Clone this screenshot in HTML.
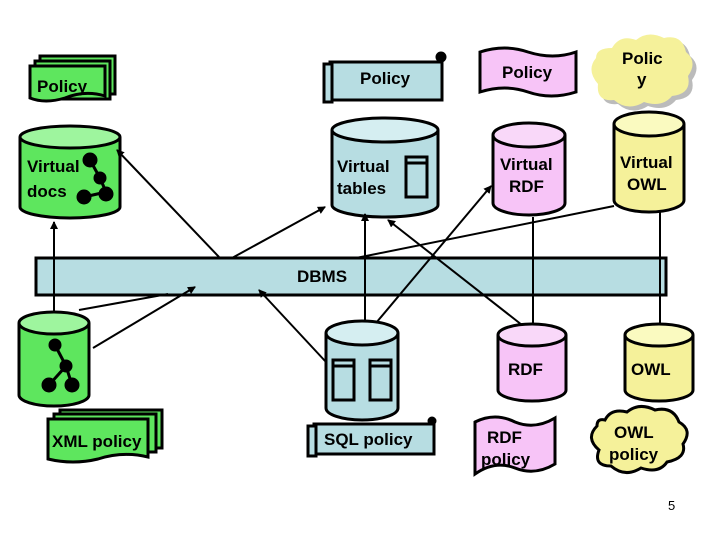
<!DOCTYPE html>
<html><head><style>body{margin:0;background:#fff}svg{display:block}text{font-family:"Liberation Sans",Arial,sans-serif;font-weight:bold;font-size:17px;fill:#000}</style></head>
<body>
<svg width="720" height="540" viewBox="0 0 720 540" xmlns="http://www.w3.org/2000/svg">
<defs>
<marker id="a" markerWidth="8" markerHeight="8" refX="7" refY="4" orient="auto" markerUnits="userSpaceOnUse"><path d="M0,0 L8,4 L0,8 z" fill="#000"/></marker>
</defs>
<g stroke="#000" stroke-width="3">
<path d="M40,56 h75 v38 h-75z" fill="#5ee65e"/>
<path d="M35,61 h75 v38 h-75z" fill="#5ee65e"/>
<path d="M30,66 h75 v30 q-20,-6 -40,2 q-20,6 -35,0z" fill="#5ee65e"/>
<path d="M330,62 h112 v38 h-112z" fill="#b7dde2"/>
<path d="M324,64 h8 v38 h-8z" fill="#b7dde2"/>
<circle cx="441" cy="57" r="4" fill="#000"/>
<path d="M480,52 q25,-8 48,0 q25,8 48,0 v40 q-25,8 -48,0 q-23,-8 -48,0z" fill="#f7c4f7"/>
<path d="M616,52 q8,-14 24,-8 q12,-10 28,-2 q18,-4 22,14 q12,10 2,24 q4,18 -16,20 q-10,12 -28,6 q-16,10 -30,-2 q-18,2 -16,-16 q-12,-14 -2,-26 q0,-10 16,-10z" fill="#bbb" stroke="none"/>
<path d="M612,48 q8,-14 24,-8 q12,-10 28,-2 q18,-4 22,14 q12,10 2,24 q4,18 -16,20 q-10,12 -28,6 q-16,10 -30,-2 q-18,2 -16,-16 q-12,-14 -2,-26 q0,-10 16,-10z" fill="#f5f19a" stroke="none"/>
</g>
<text x="37" y="92">Policy</text>
<text x="360" y="84">Policy</text>
<text x="502" y="78">Policy</text>
<text x="622" y="64">Polic</text>
<text x="637" y="85">y</text>
<g stroke="#000" stroke-width="3">
<path d="M20,137 v70 a50,11 0 0 0 100,0 v-70" fill="#5ee65e"/><ellipse cx="70" cy="137" rx="50" ry="11" fill="#9ef59e"/>
<path d="M332,130 v75 a53,12 0 0 0 106,0 v-75" fill="#b7dde2"/><ellipse cx="385" cy="130" rx="53" ry="12" fill="#d5eef1"/>
<path d="M493,135 v68 a36,12 0 0 0 72,0 v-68" fill="#f7c4f7"/><ellipse cx="529" cy="135" rx="36" ry="12" fill="#f9d8f9"/>
<path d="M614,124 v76 a35,12 0 0 0 70,0 v-76" fill="#f5f19a"/><ellipse cx="649" cy="124" rx="35" ry="12" fill="#fafac0"/>
<path d="M19,323 v72 a35,11 0 0 0 70,0 v-72" fill="#5ee65e"/><ellipse cx="54" cy="323" rx="35" ry="11" fill="#9ef59e"/>
<path d="M326,333 v75 a36,12 0 0 0 72,0 v-75" fill="#b7dde2"/><ellipse cx="362" cy="333" rx="36" ry="12" fill="#d5eef1"/>
<path d="M498,335 v55 a34,11 0 0 0 68,0 v-55" fill="#f7c4f7"/><ellipse cx="532" cy="335" rx="34" ry="11" fill="#f9d8f9"/>
<path d="M625,335 v55 a34,11 0 0 0 68,0 v-55" fill="#f5f19a"/><ellipse cx="659" cy="335" rx="34" ry="11" fill="#fafac0"/>
<rect x="36" y="258" width="630" height="37" fill="#b7dde2"/>
<path d="M60,410 h102 v38 h-102z" fill="#5ee65e"/>
<path d="M54,414 h102 v38 h-102z" fill="#5ee65e"/>
<path d="M48,419 h100 v38 q-25,-6 -50,2 q-25,6 -50,0z" fill="#5ee65e"/>
<path d="M314,424 h120 v30 h-120z" fill="#b7dde2"/>
<path d="M308,426 h8 v30 h-8z" fill="#b7dde2"/>
<circle cx="432" cy="421" r="3" fill="#000"/>
<path d="M475,422 q20,-10 40,0 q20,8 40,-4 v46 q-20,12 -40,4 q-20,-8 -40,6z" fill="#f7c4f7"/>
<path d="M605,420 q6,-12 22,-8 q12,-10 28,-2 q18,-4 24,12 q14,8 4,22 q4,14 -16,18 q-8,12 -26,6 q-16,10 -30,-2 q-18,0 -12,-16 q-14,-12 -2,-24 q0,-8 8,-6z" fill="#f5f19a"/>
</g>
<g stroke="#000" stroke-width="3" fill="#000">
<line x1="90" y1="160" x2="100" y2="178"/><line x1="100" y1="178" x2="106" y2="192"/><line x1="106" y1="192" x2="84" y2="197"/>
<circle cx="90" cy="160" r="6"/><circle cx="100" cy="178" r="5"/><circle cx="84" cy="197" r="6"/><circle cx="106" cy="194" r="6"/>
<line x1="55" y1="345" x2="66" y2="366"/><line x1="66" y1="366" x2="72" y2="385"/><line x1="66" y1="366" x2="49" y2="385"/>
<circle cx="55" cy="345" r="5"/><circle cx="66" cy="366" r="5"/><circle cx="49" cy="385" r="6"/><circle cx="72" cy="385" r="6"/>
</g>
<g stroke="#000" stroke-width="3" fill="#b7dde2">
<rect x="406" y="157" width="21" height="40"/><line x1="406" y1="163" x2="427" y2="163"/>
<rect x="333" y="360" width="21" height="40"/><line x1="333" y1="366" x2="354" y2="366"/>
<rect x="370" y="360" width="21" height="40"/><line x1="370" y1="366" x2="391" y2="366"/>
</g>
<g stroke="#000" stroke-width="2" fill="none">
<line x1="54" y1="313" x2="54" y2="222" marker-end="url(#a)"/>
<line x1="219" y1="257" x2="117" y2="150" marker-end="url(#a)"/>
<line x1="232" y1="258" x2="325" y2="207" marker-end="url(#a)"/>
<line x1="365" y1="322" x2="365" y2="214" marker-end="url(#a)"/>
<line x1="522" y1="325" x2="388" y2="220" marker-end="url(#a)"/>
<line x1="376" y1="323" x2="491" y2="186" marker-end="url(#a)"/>
<line x1="533" y1="325" x2="533" y2="217"/>
<line x1="660" y1="325" x2="660" y2="212"/>
<line x1="614" y1="206" x2="356" y2="258"/>
<line x1="79" y1="310" x2="168" y2="294"/>
<line x1="93" y1="348" x2="195" y2="287" marker-end="url(#a)"/>
<line x1="326" y1="362" x2="259" y2="290" marker-end="url(#a)"/>
</g>
<text x="27" y="172">Virtual</text>
<text x="27" y="197">docs</text>
<text x="337" y="172">Virtual</text>
<text x="337" y="194">tables</text>
<text x="500" y="170">Virtual</text>
<text x="509" y="192">RDF</text>
<text x="620" y="168">Virtual</text>
<text x="627" y="190">OWL</text>
<text x="297" y="282" font-size="16">DBMS</text>
<text x="508" y="375" font-size="16">RDF</text>
<text x="631" y="375" font-size="16">OWL</text>
<text x="52" y="447" font-size="16">XML policy</text>
<text x="324" y="445" font-size="16">SQL policy</text>
<text x="487" y="443" font-size="16">RDF</text>
<text x="481" y="465" font-size="16">policy</text>
<text x="614" y="438" font-size="16">OWL</text>
<text x="609" y="460" font-size="16">policy</text>
<text x="668" y="510" style="font-size:13px;font-weight:normal">5</text>
</svg>
</body></html>
